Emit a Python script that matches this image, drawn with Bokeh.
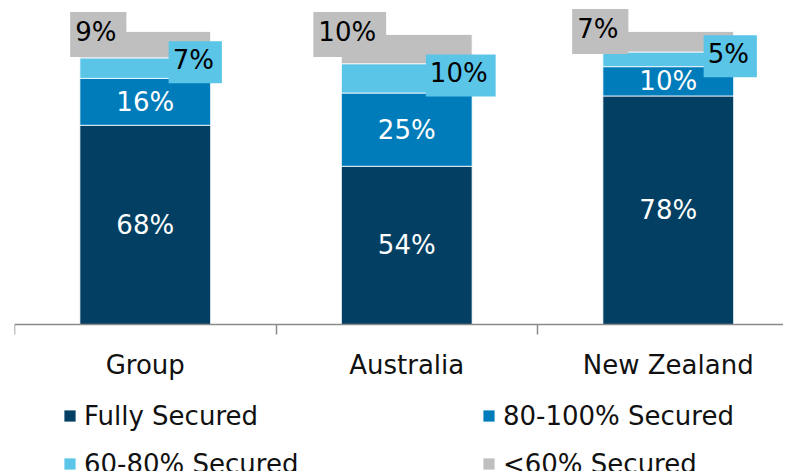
import numpy as np
from bokeh.plotting import figure
from bokeh.models import (Range1d, FixedTicker, ColumnDataSource, Legend, LegendItem,
                          LinearAxis)
from bokeh.core.properties import value
from bokeh.embed import file_html
from bokeh.resources import INLINE

# ---------------- data ----------------
categories = ["Group", "Australia", "New Zealand"]
series_names = ["Fully Secured", "80-100% Secured", "60-80% Secured", "<60% Secured"]
fully_secured = [68, 54, 78]
secured_80_100 = [16, 25, 10]
secured_60_80 = [7, 10, 5]
secured_below_60 = [9, 10, 7]

colors = ["#023F63", "#007CBA", "#5BC5E8", "#BFBFBF"]
FONT = "DejaVu Sans"
FS = "26px"

# ---------------- geometry (pixels) ----------------
FIG_W = 783
FIG_H = 471
BORDER_LEFT = 14
PX_PER_CAT = 261.5
PX_PER_UNIT = 2.93
FRAME_W = FIG_W - BORDER_LEFT
FRAME_H = FIG_H
AXIS_FROM_TOP = 324  # pixels from frame top to the value 0

xs = list(range(len(categories)))
keys = ["fs", "s80", "s60", "s0"]
values = [fully_secured, secured_80_100, secured_60_80, secured_below_60]
data = dict(x=xs)
for k, v in zip(keys, values):
    data[k] = v
src = ColumnDataSource(data)

p = figure(width=FIG_W, height=FIG_H, output_backend="svg", toolbar_location=None,
           x_range=Range1d(-0.5, -0.5 + FRAME_W / PX_PER_CAT),
           y_range=Range1d(-(FRAME_H - AXIS_FROM_TOP) / PX_PER_UNIT, AXIS_FROM_TOP / PX_PER_UNIT),
           min_border_left=BORDER_LEFT, min_border_right=0, min_border_top=0, min_border_bottom=0,
           x_axis_location=None, y_axis_location=None, outline_line_color=None,
           background_fill_color="white", border_fill_color="white")
p.grid.visible = False

rends = p.vbar_stack(keys, x="x", width=0.5, color=colors, line_color="white",
                     line_width=0.8, source=src)

# ---------------- axis ----------------
ax = LinearAxis(fixed_location=0,
                ticker=FixedTicker(ticks=xs, minor_ticks=[i - 0.5 for i in range(len(categories) + 1)]),
                major_label_overrides={i: c for i, c in zip(xs, categories)})
ax.axis_line_color = "#8A8A8A"
ax.axis_line_width = 1.5
ax.major_tick_line_color = None
ax.major_tick_in = 0
ax.major_tick_out = 0
ax.minor_tick_line_color = "#8A8A8A"
ax.minor_tick_line_width = 1.5
ax.minor_tick_in = 0
ax.minor_tick_out = 10
ax.major_label_text_font = FONT
ax.major_label_text_font_size = FS
ax.major_label_text_color = "#111111"
ax.major_label_standoff = 15
p.add_layout(ax, "below")

# ---------------- labels ----------------
vals = np.array(values, dtype=float)
cum = np.cumsum(vals, axis=0)
mids = cum - vals / 2

def fmt(v):
    return [f"{int(a)}%" for a in v]

# white labels inside the two lower segments
for j in (0, 1):
    s = ColumnDataSource(dict(x=xs, y=mids[j], t=fmt(vals[j])))
    p.text(x="x", y="y", text="t", source=s, text_align="center", text_baseline="middle",
           text_color="white", text_font=value(FONT), text_font_size=value(FS))

# boxed labels for the two upper segments
gray_dx = [-47, -57, -68]
gray_dy = [3, 0, 0]
light_dx = [50, 54, 62]
light_dy = [-6, -3, -3]

s_light = ColumnDataSource(dict(x=xs, y=mids[2], t=fmt(vals[2]), dx=light_dx, dy=light_dy))
p.text(x="x", y="y", text="t", source=s_light, x_offset="dx", y_offset="dy",
       text_align="center", text_baseline="middle", text_color="black",
       text_font=value(FONT), text_font_size=value(FS),
       background_fill_color=colors[2], padding=(4, 8, 4, 8))

s_gray = ColumnDataSource(dict(x=xs, y=cum[3], t=fmt(vals[3]), dx=gray_dx, dy=gray_dy))
p.text(x="x", y="y", text="t", source=s_gray, x_offset="dx", y_offset="dy",
       text_align="center", text_baseline="middle", text_color="black",
       text_font=value(FONT), text_font_size=value(FS),
       background_fill_color=colors[3], padding=(5, 10, 5, 10))

# ---------------- legend ----------------
order = [0, 2, 1, 3]  # column-wise fill -> rows: Fully/80-100, 60-80/<60
legend = Legend(items=[LegendItem(label=series_names[i], renderers=[rends[i]]) for i in order],
                ncols=2, location=(48, -10), padding=0, margin=0, spacing=13,
                glyph_width=15, glyph_height=15, label_standoff=7,
                label_width=384, label_height=35,
                label_text_font=FONT, label_text_font_size=FS, label_text_color="#111111",
                background_fill_alpha=0, border_line_color=None)
p.add_layout(legend, "center")

open("out.html", "w").write(file_html(p, INLINE))
